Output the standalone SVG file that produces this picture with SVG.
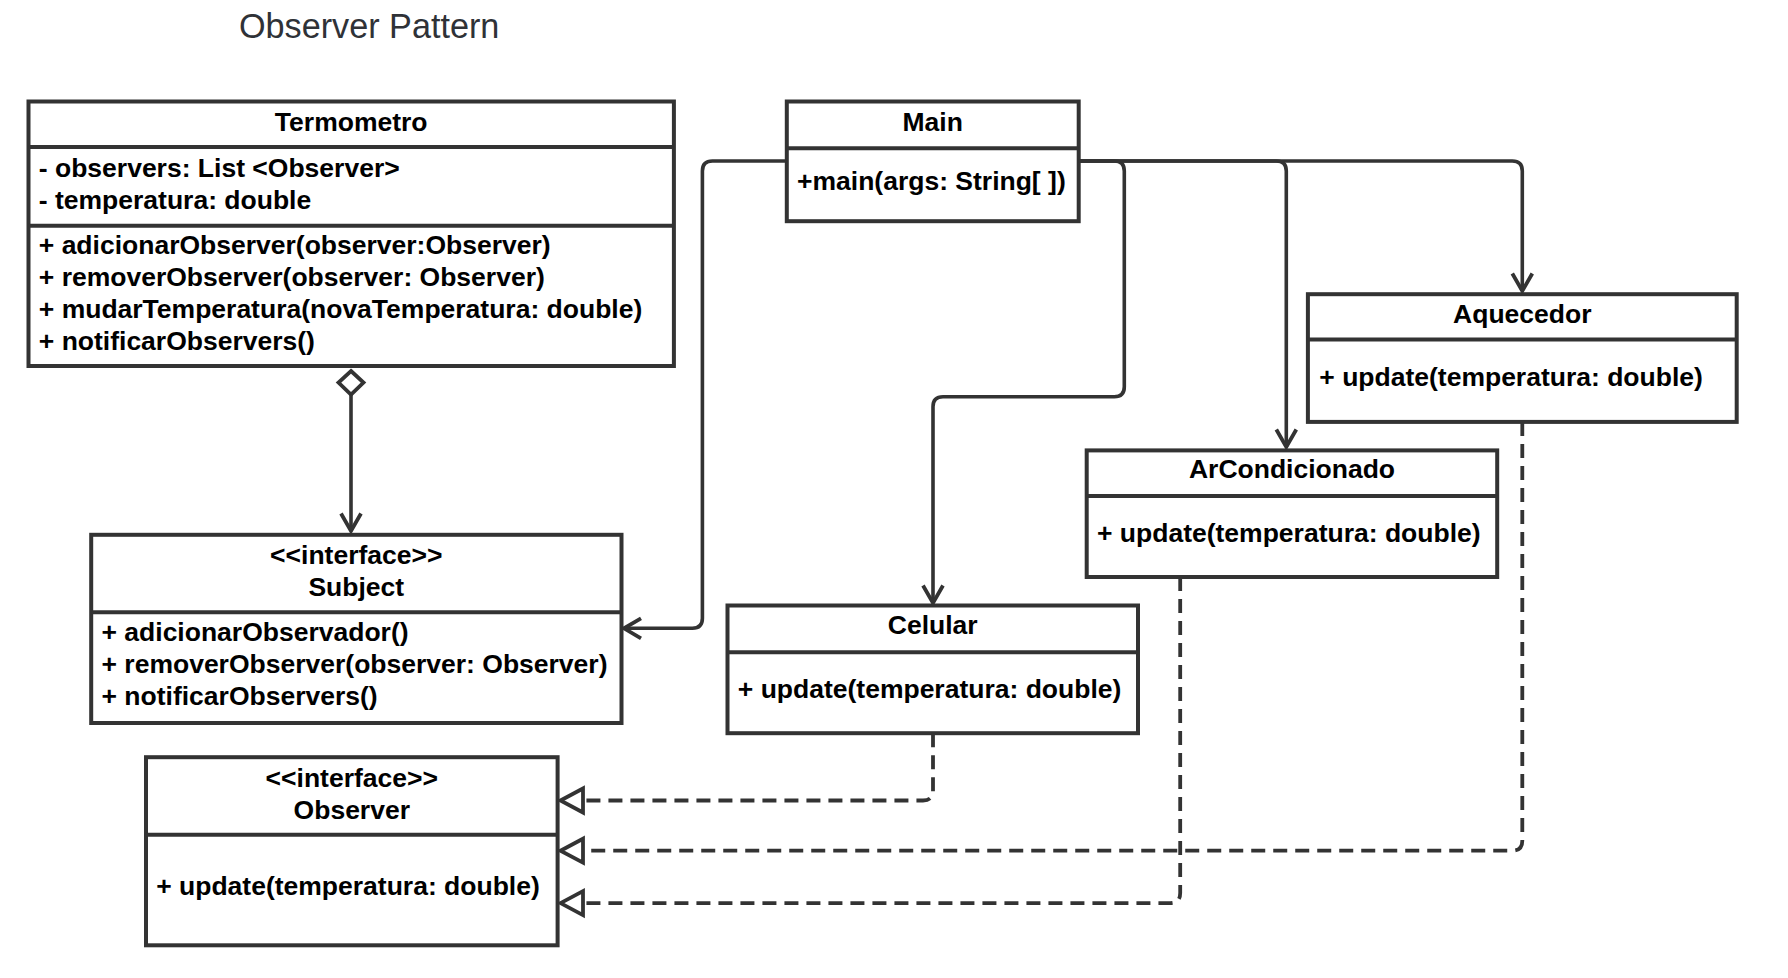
<svg xmlns="http://www.w3.org/2000/svg" width="1788" height="978" viewBox="0 0 1788 978">
<style>
.box{fill:#fff;stroke:#333;stroke-width:4}
.div{stroke:#333;stroke-width:4}
.t{font-family:"Liberation Sans",Arial,sans-serif;font-weight:bold;font-size:26.5px;fill:#000}
.c{text-anchor:middle}
.ln{fill:none;stroke:#333;stroke-width:3.6}
.dash{fill:none;stroke:#333;stroke-width:3.8;stroke-dasharray:14 8}
.ah{fill:none;stroke:#333;stroke-width:3.8;stroke-linejoin:miter}
.tri{fill:#fff;stroke:#333;stroke-width:3.8}
</style>
<rect width="1788" height="978" fill="#fff"/>
<text x="239" y="38" font-family="'Liberation Sans',Arial,sans-serif" font-size="34.2" fill="#2f3237">Observer Pattern</text>

<g id="termometro">
<rect class="box" x="28.5" y="101.5" width="645.4" height="264.5"/>
<line class="div" x1="28.5" y1="147.1" x2="673.9" y2="147.1"/>
<line class="div" x1="28.5" y1="225.8" x2="673.9" y2="225.8"/>
<text class="t c" x="351.2" y="131">Termometro</text>
<text class="t" x="38.8" y="176.6">- observers: List &lt;Observer&gt;</text>
<text class="t" x="38.8" y="208.6">- temperatura: double</text>
<text class="t" x="38.8" y="254.2">+ adicionarObserver(observer:Observer)</text>
<text class="t" x="38.8" y="286.1">+ removerObserver(observer: Observer)</text>
<text class="t" x="38.8" y="318">+ mudarTemperatura(novaTemperatura: double)</text>
<text class="t" x="38.8" y="350">+ notificarObservers()</text>
</g>

<g id="main">
<rect class="box" x="786.8" y="101.5" width="291.9" height="119.7"/>
<line class="div" x1="786.8" y1="148.2" x2="1078.7" y2="148.2"/>
<text class="t c" x="932.7" y="131">Main</text>
<text class="t" x="797" y="190.3">+main(args: String[ ])</text>
</g>

<g id="aquecedor">
<rect class="box" x="1307.9" y="294.2" width="428.8" height="127.7"/>
<line class="div" x1="1307.9" y1="339.5" x2="1736.7" y2="339.5"/>
<text class="t c" x="1522.3" y="322.6">Aquecedor</text>
<text class="t" x="1319.3" y="386.4">+ update(temperatura: double)</text>
</g>

<g id="arcondicionado">
<rect class="box" x="1086.7" y="450.4" width="410.5" height="126.6"/>
<line class="div" x1="1086.7" y1="496" x2="1497.2" y2="496"/>
<text class="t c" x="1292" y="477.7">ArCondicionado</text>
<text class="t" x="1097" y="541.5">+ update(temperatura: double)</text>
</g>

<g id="celular">
<rect class="box" x="727.5" y="605.5" width="410.5" height="127.7"/>
<line class="div" x1="727.5" y1="652.3" x2="1138" y2="652.3"/>
<text class="t c" x="932.7" y="633.9">Celular</text>
<text class="t" x="737.8" y="697.7">+ update(temperatura: double)</text>
</g>

<g id="subject">
<rect class="box" x="91.2" y="534.8" width="530.3" height="188.2"/>
<line class="div" x1="91.2" y1="612.3" x2="621.5" y2="612.3"/>
<text class="t c" x="356.3" y="564.3">&lt;&lt;interface&gt;&gt;</text>
<text class="t c" x="356.3" y="596.3">Subject</text>
<text class="t" x="101.5" y="640.7">+ adicionarObservador()</text>
<text class="t" x="101.5" y="672.7">+ removerObserver(observer: Observer)</text>
<text class="t" x="101.5" y="704.6">+ notificarObservers()</text>
</g>

<g id="observer">
<rect class="box" x="146" y="757.2" width="411.6" height="188.1"/>
<line class="div" x1="146" y1="834.7" x2="557.6" y2="834.7"/>
<text class="t c" x="351.8" y="786.7">&lt;&lt;interface&gt;&gt;</text>
<text class="t c" x="351.8" y="818.6">Observer</text>
<text class="t" x="156.2" y="895">+ update(temperatura: double)</text>
</g>

<g id="connectors">
<polygon class="tri" points="351,371 363.5,382.5 351,394.5 338.5,382.5"/>
<line class="ln" x1="351" y1="394.5" x2="351" y2="531"/>
<polyline class="ah" points="341,513.5 351,531 361,513.5"/>

<path class="ln" d="M786.8,161 H712.4 Q702.4,161 702.4,171 V618.3 Q702.4,628.3 692.4,628.3 H624"/>
<polyline class="ah" points="641,618.3 624,628.3 641,638.3"/>

<path class="ln" d="M1078.7,161 H1114.3 Q1124.3,161 1124.3,171 V386.8 Q1124.3,396.8 1114.3,396.8 H943 Q933,396.8 933,406.8 V603"/>
<polyline class="ah" points="923,585.5 933,603 943,585.5"/>

<path class="ln" d="M1078.7,161 H1276.3 Q1286.3,161 1286.3,171 V447"/>
<polyline class="ah" points="1276.3,429.5 1286.3,447 1296.3,429.5"/>

<path class="ln" d="M1078.7,161 H1512.3 Q1522.3,161 1522.3,171 V291"/>
<polyline class="ah" points="1512.3,273.5 1522.3,291 1532.3,273.5"/>

<path class="dash" d="M933,733.2 V790.5 Q933,800.5 923,800.5 H582.5"/>
<polygon class="tri" points="560.5,800.5 583,788.5 583,812.5"/>

<path class="dash" d="M1522.3,421.9 V840.7 Q1522.3,850.7 1512.3,850.7 H582.5"/>
<polygon class="tri" points="560.5,850.7 583,838.7 583,862.7"/>

<path class="dash" d="M1180.2,577 V893.1 Q1180.2,903.1 1170.2,903.1 H582.5"/>
<polygon class="tri" points="560.5,903.1 583,891.1 583,915.1"/>
</g>
</svg>
